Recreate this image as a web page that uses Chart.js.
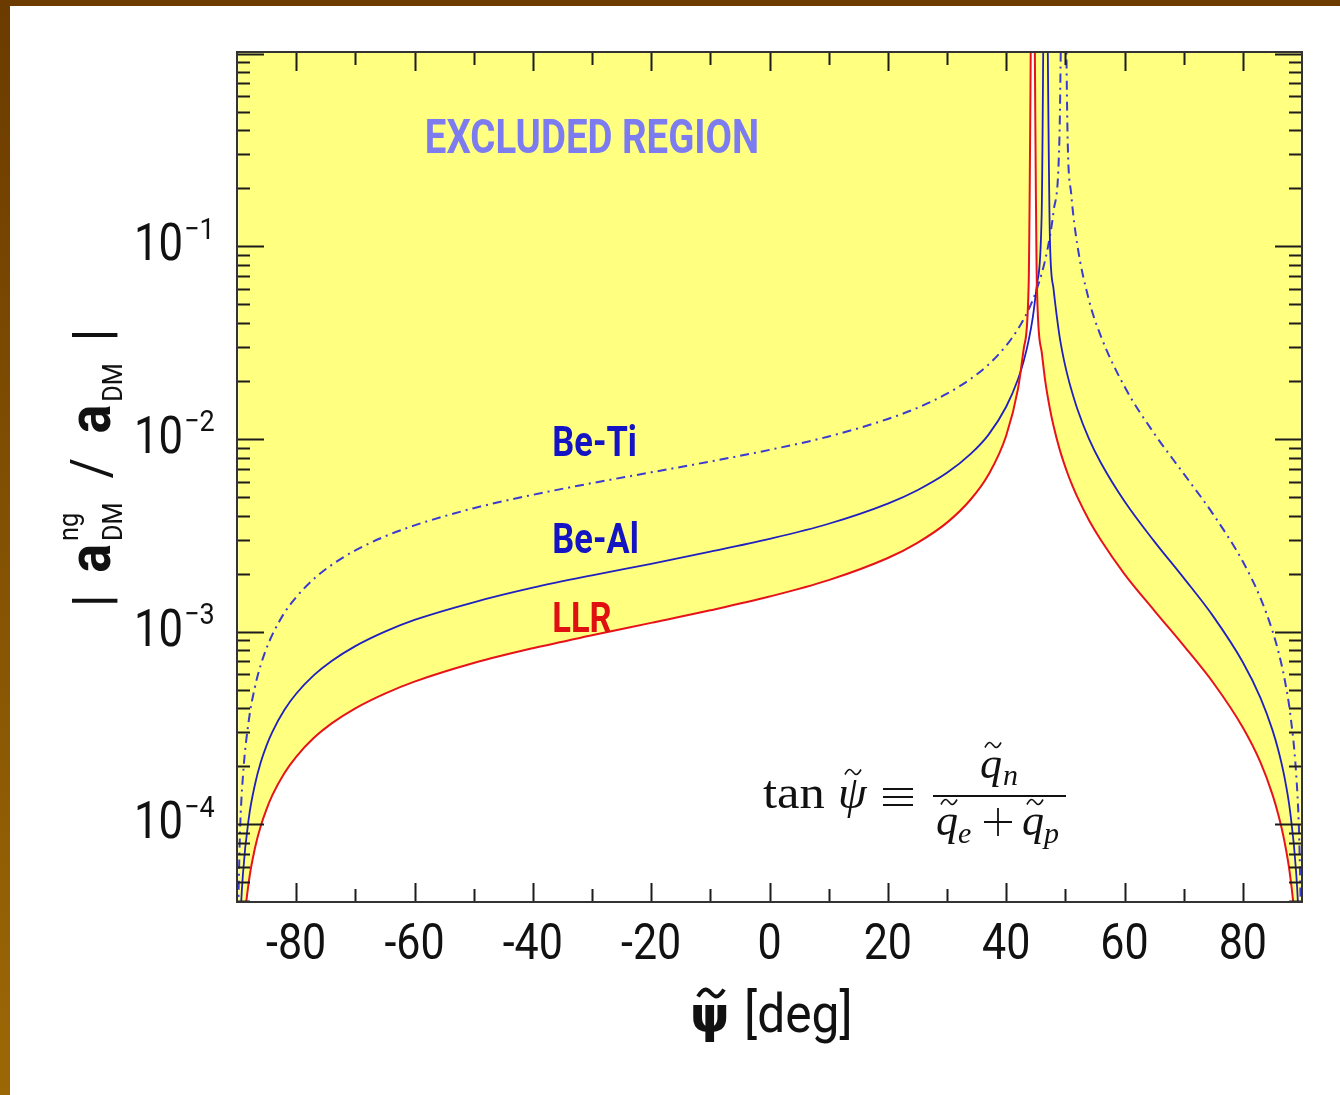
<!DOCTYPE html>
<html>
<head>
<meta charset="utf-8">
<title>Non-gravitational DM acceleration bounds</title>
<script src="https://cdn.jsdelivr.net/npm/chart.js@4.4.1/dist/chart.umd.min.js"></script>
<style>
  html, body { margin: 0; padding: 0; }
  body { width: 1340px; height: 1095px; position: relative; overflow: hidden;
         background: linear-gradient(to bottom, #6b3b00, #9c6806); }
  #paper { position: absolute; left: 10px; top: 6px; right: 0; bottom: 0; background: #fff; }
  #wrap { position: absolute; left: 0; top: 0; width: 1340px; height: 1095px; }
</style>
</head>
<body>
<div id="paper"></div>
<div id="wrap"><canvas id="bounds" width="1340" height="1095"></canvas></div>
<script>
// mixing angle psi~ in degrees
const psi = [-89.8, -89.5, -89, -88, -87, -86, -85, -84, -82, -80, -77, -74, -70, -65, -60, -50, -40, -30, -20, -10,
  0, 10, 20, 25, 30, 34, 37, 40, 42, 43, 43.8, 44.5, 45.2, 46, 46.6, 47.4, 48, 49, 49.7, 50.4, 51, 52, 54, 56,
  60, 65, 70, 75, 80, 83, 85, 86, 87, 88, 89, 89.5, 89.8];

// |a_DM^ng / a_DM| upper bounds
const llr = [5.2e-6, 1.29e-5, 2.56e-5, 5.04e-5, 7.44e-5, 9.77e-5, 1.20e-4, 1.42e-4, 1.84e-4, 2.24e-4, 2.81e-4, 3.34e-4,
  4.00e-4, 4.77e-4, 5.50e-4, 6.87e-4, 8.20e-4, 9.57e-4, 1.11e-3, 1.29e-3,
  1.52e-3, 1.85e-3, 2.41e-3, 2.89e-3, 3.68e-3, 4.85e-3, 6.52e-3, 1.04e-2, 1.82e-2, 2.98e-2, 6.29e-2, 10, 6.14e-2,
  2.83e-2, 2.00e-2, 1.43e-2, 1.17e-2, 8.91e-3, 7.60e-3, 6.60e-3, 5.92e-3, 5.02e-3, 3.79e-3, 2.99e-3,
  1.99e-3, 1.29e-3, 8.46e-4, 5.43e-4, 3.18e-4, 2.09e-4, 1.43e-4, 1.12e-4, 8.25e-5, 5.40e-5, 2.65e-5, 1.31e-5, 5.3e-6];

const beAl = [1.11e-5, 2.77e-5, 5.49e-5, 1.08e-4, 1.59e-4, 2.09e-4, 2.57e-4, 3.03e-4, 3.92e-4, 4.76e-4, 5.94e-4, 7.04e-4,
  8.41e-4, 1.00e-3, 1.15e-3, 1.42e-3, 1.69e-3, 1.96e-3, 2.25e-3, 2.60e-3,
  3.03e-3, 3.63e-3, 4.62e-3, 5.42e-3, 6.67e-3, 8.36e-3, 1.05e-2, 1.47e-2, 2.04e-2, 2.56e-2, 3.25e-2, 4.28e-2, 6.35e-2,
  1.46e-1, 10, 1.07e-1, 6.03e-2, 3.45e-2, 2.63e-2, 2.12e-2, 1.81e-2, 1.44e-2, 1.00e-2, 7.53e-3,
  4.75e-3, 2.95e-3, 1.90e-3, 1.20e-3, 6.94e-4, 4.52e-4, 3.09e-4, 2.42e-4, 1.78e-4, 1.16e-4, 5.69e-5, 2.82e-5, 1.13e-5];

const beTi = [3.56e-5, 8.95e-5, 1.77e-4, 3.47e-4, 5.11e-4, 6.69e-4, 8.22e-4, 9.68e-4, 1.25e-3, 1.51e-3, 1.88e-3, 2.22e-3,
  2.64e-3, 3.12e-3, 3.56e-3, 4.37e-3, 5.13e-3, 5.90e-3, 6.71e-3, 7.64e-3,
  8.78e-3, 1.03e-2, 1.27e-2, 1.45e-2, 1.72e-2, 2.05e-2, 2.43e-2, 3.05e-2, 3.72e-2, 4.20e-2, 4.70e-2, 5.27e-2, 6.02e-2,
  7.21e-2, 8.51e-2, 1.13e-1, 1.51e-1, 3.60e-1, 10, 3.50e-1, 1.86e-1, 1.03e-1, 5.25e-2, 3.42e-2,
  1.87e-2, 1.07e-2, 6.61e-3, 4.06e-3, 2.31e-3, 1.49e-3, 1.01e-3, 7.90e-4, 5.79e-4, 3.77e-4, 1.85e-4, 9.13e-5, 3.67e-5];

const xTickLabels = [-80, -60, -40, -20, 0, 20, 40, 60, 80];
const yDecades = [-4, -3, -2, -1];

const YELLOW = '#ffff80';
const RED = '#e6141a';
const BLUE = '#2020c0';
const BLUE_DASH = '#3a3ad2';

const toPoints = vals => psi.map((p, i) => ({ x: p, y: vals[i] }));

function squeezed(ctx, text, x, y, sx, align) {
  ctx.save();
  ctx.translate(x, y);
  ctx.scale(sx, 1);
  ctx.textAlign = align || 'left';
  ctx.fillText(text, 0, 0);
  ctx.restore();
}

function tilde(ctx, cx, cy, w, h, lw) {
  ctx.save();
  ctx.lineWidth = lw;
  ctx.beginPath();
  ctx.moveTo(cx - w / 2, cy + h / 2);
  ctx.bezierCurveTo(cx - w / 4, cy - h, cx - w / 8, cy - h / 2, cx, cy);
  ctx.bezierCurveTo(cx + w / 8, cy + h / 2, cx + w / 4, cy + h, cx + w / 2, cy - h / 2);
  ctx.stroke();
  ctx.restore();
}

// inward ticks on all four sides plus the box
const frame = {
  id: 'frame',
  afterDatasetsDraw(chart) {
    const { ctx, chartArea: a, scales: { x, y } } = chart;
    ctx.save();
    ctx.strokeStyle = '#1c1c1c';
    ctx.lineWidth = 2;
    ctx.beginPath();
    for (let v = -80; v <= 80; v += 10) {
      const px = Math.round(x.getPixelForValue(v)) + 0.5;
      const len = v % 20 === 0 ? 19 : 13;
      ctx.moveTo(px, a.bottom); ctx.lineTo(px, a.bottom - len);
      ctx.moveTo(px, a.top); ctx.lineTo(px, a.top + len);
    }
    for (let d = -5; d <= 0; d++) {
      for (let m = 1; m <= 9; m++) {
        const v = m * Math.pow(10, d);
        if (v < y.min || v > y.max) continue;
        const py = Math.round(y.getPixelForValue(v)) + 0.5;
        const len = m === 1 ? 27 : 13;
        ctx.moveTo(a.left, py); ctx.lineTo(a.left + len, py);
        ctx.moveTo(a.right, py); ctx.lineTo(a.right - len, py);
      }
    }
    ctx.stroke();
    ctx.strokeStyle = '#333';
    ctx.strokeRect(a.left, a.top, a.right - a.left, a.bottom - a.top);
    ctx.restore();
  }
};

// tick labels, axis titles and annotations
const texts = {
  id: 'texts',
  afterDraw(chart) {
    const { ctx, chartArea: a, scales: { x, y } } = chart;
    ctx.save();
    ctx.fillStyle = '#111';
    ctx.textBaseline = 'middle';

    ctx.font = '50px Roboto';
    xTickLabels.forEach(v => squeezed(ctx, String(v), x.getPixelForValue(v), a.bottom + 44, 0.86, 'center'));

    yDecades.forEach(d => {
      const py = y.getPixelForValue(Math.pow(10, d));
      ctx.font = '52px Roboto';
      squeezed(ctx, '10', a.left - 54, py + 1, 0.84, 'right');
      ctx.font = '30px Roboto';
      squeezed(ctx, '\u2212' + Math.abs(d), a.left - 53, py - 15, 0.9, 'left');
    });

    // x title
    ctx.textBaseline = 'alphabetic';
    ctx.font = 'bold 50px "DejaVu Sans"';
    ctx.textAlign = 'left';
    ctx.fillText('\u03c8', 690, 1032);
    ctx.strokeStyle = '#111';
    tilde(ctx, 711, 993, 26, 7, 4);
    ctx.font = '54px Roboto';
    squeezed(ctx, '[deg]', 744, 1032, 0.92, 'left');

    // y title, rotated
    ctx.save();
    ctx.translate(110, 468);
    ctx.rotate(-Math.PI / 2);
    const parts = [
      { t: '|', f: 'bold 54px Roboto', dy: 0, gap: 22 },
      { t: 'a', f: 'bold 60px Roboto', dy: 0, gap: 3 },
      { t: 'DM', f: '28px Roboto', dy: 12, gap: 0, stack: 'ng' },
      { t: '/', f: '56px Roboto', dy: 0, gap: 24, pre: 24 },
      { t: 'a', f: 'bold 60px Roboto', dy: 0, gap: 3 },
      { t: 'DM', f: '28px Roboto', dy: 12, gap: 22 },
      { t: '|', f: 'bold 54px Roboto', dy: 0, gap: 0 }
    ];
    let total = 0;
    parts.forEach(p => { ctx.font = p.f; p.w = ctx.measureText(p.t).width * 0.9; total += (p.pre || 0) + p.w + p.gap; });
    let cx = -total / 2;
    parts.forEach(p => {
      cx += p.pre || 0;
      ctx.font = p.f;
      squeezed(ctx, p.t, cx, p.dy, 0.9, 'left');
      if (p.stack) squeezed(ctx, p.stack, cx, -32, 0.9, 'left');
      cx += p.w + p.gap;
    });
    ctx.restore();

    // region and curve labels
    ctx.textBaseline = 'middle';
    ctx.font = 'bold 48px Roboto';
    ctx.fillStyle = '#7c7cf0';
    squeezed(ctx, 'EXCLUDED REGION', x.getPixelForValue(-30), y.getPixelForValue(0.35), 0.8, 'center');
    ctx.font = 'bold 42px Roboto';
    ctx.fillStyle = '#1414c4';
    squeezed(ctx, 'Be-Ti', x.getPixelForValue(-36.7), y.getPixelForValue(9.2e-3), 0.82, 'left');
    squeezed(ctx, 'Be-Al', x.getPixelForValue(-36.7), y.getPixelForValue(2.9e-3), 0.82, 'left');
    ctx.fillStyle = '#e01010';
    squeezed(ctx, 'LLR', x.getPixelForValue(-36.7), y.getPixelForValue(1.13e-3), 0.82, 'left');

    // definition of the angle
    ctx.fillStyle = '#111';
    ctx.strokeStyle = '#111';
    ctx.textBaseline = 'alphabetic';
    ctx.font = '46px "Liberation Serif"';
    squeezed(ctx, 'tan', 763, 808, 1.1, 'left');
    ctx.font = 'italic 46px "Liberation Serif"';
    ctx.fillText('\u03c8', 838, 808);
    tilde(ctx, 853, 772, 16, 5, 1.6);
    // identity sign as three bars
    ctx.lineWidth = 1.8;
    ctx.beginPath();
    [789, 797, 805].forEach(ly => { ctx.moveTo(883, ly); ctx.lineTo(913, ly); });
    ctx.moveTo(933, 796); ctx.lineTo(1066, 796);
    ctx.stroke();
    ctx.font = 'italic 44px "Liberation Serif"';
    ctx.fillText('q', 980, 778);
    tilde(ctx, 993, 745, 16, 5, 1.6);
    ctx.font = 'italic 30px "Liberation Serif"';
    ctx.fillText('n', 1003, 785);
    ctx.font = 'italic 44px "Liberation Serif"';
    ctx.fillText('q', 936, 835);
    tilde(ctx, 949, 802, 16, 5, 1.6);
    ctx.font = 'italic 30px "Liberation Serif"';
    ctx.fillText('e', 958, 843);
    ctx.lineWidth = 1.8;
    ctx.beginPath();
    ctx.moveTo(984, 822); ctx.lineTo(1012, 822);
    ctx.moveTo(998, 808); ctx.lineTo(998, 836);
    ctx.stroke();
    ctx.font = 'italic 44px "Liberation Serif"';
    ctx.fillText('q', 1022, 835);
    tilde(ctx, 1035, 802, 16, 5, 1.6);
    ctx.font = 'italic 30px "Liberation Serif"';
    ctx.fillText('p', 1044, 843);
    ctx.restore();
  }
};

new Chart(document.getElementById('bounds'), {
  type: 'line',
  data: {
    datasets: [{
      label: 'LLR',
      data: toPoints(llr),
      borderColor: RED,
      borderWidth: 2,
      backgroundColor: YELLOW,
      fill: 'end'
    }, {
      label: 'Be-Al',
      data: toPoints(beAl),
      borderColor: BLUE,
      borderWidth: 1.8,
      fill: false
    }, {
      label: 'Be-Ti',
      data: toPoints(beTi),
      borderColor: BLUE_DASH,
      borderWidth: 2,
      borderDash: [9, 5, 2, 5],
      fill: false
    }]
  },
  options: {
    responsive: false,
    animation: false,
    layout: { padding: { left: 237, top: 52, right: 38, bottom: 193 } },
    elements: {
      point: { radius: 0 },
      line: { cubicInterpolationMode: 'monotone' }
    },
    scales: {
      x: { type: 'linear', min: -90, max: 90, display: false },
      y: { type: 'logarithmic', min: 3.95e-5, max: 1.02, display: false }
    },
    plugins: {
      legend: { display: false },
      tooltip: { enabled: false },
      filler: { drawTime: 'beforeDatasetsDraw' }
    }
  },
  plugins: [frame, texts]
});
</script>
</body>
</html>
